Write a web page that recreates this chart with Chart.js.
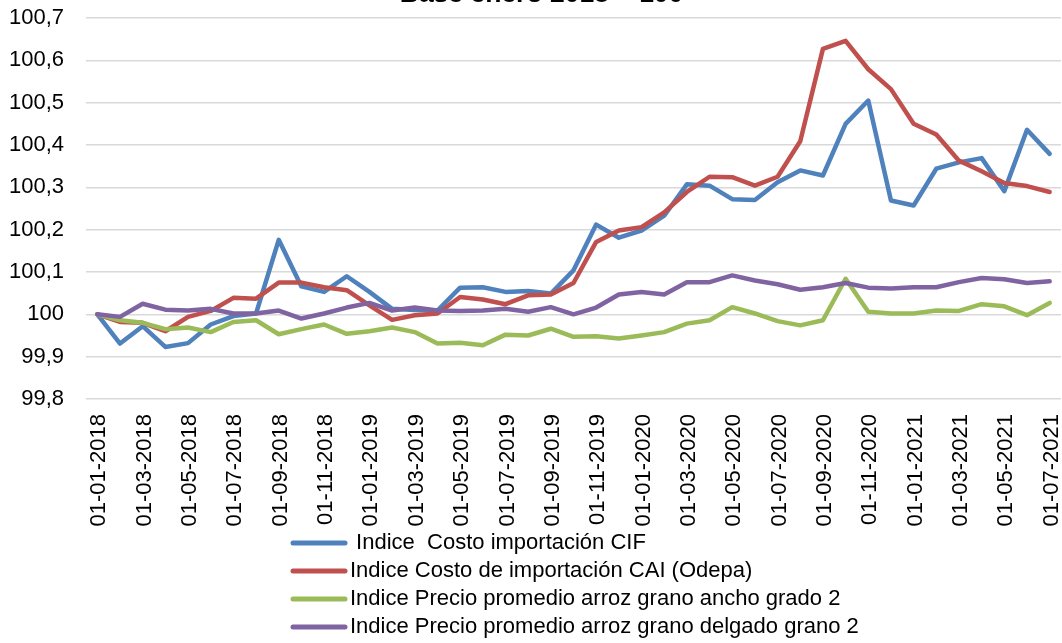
<!DOCTYPE html>
<html>
<head>
<meta charset="utf-8">
<script src="https://cdn.jsdelivr.net/npm/chart.js@4.4.1/dist/chart.umd.min.js"></script>
<style>
  html, body { margin: 0; padding: 0; background: #fff; overflow: hidden; }
  #wrap { width: 1062px; height: 643px; overflow: hidden; }
  /* the title sits mostly above the visible area */
  #myChart { display: block; margin-top: -21px; }
</style>
</head>
<body>
<div id="wrap"><canvas id="myChart" width="1062" height="664"></canvas></div>
<script>
// monthly dates, Jan 2018 .. Jul 2021
const fechas = [
  '01-01-2018','01-02-2018','01-03-2018','01-04-2018','01-05-2018','01-06-2018',
  '01-07-2018','01-08-2018','01-09-2018','01-10-2018','01-11-2018','01-12-2018',
  '01-01-2019','01-02-2019','01-03-2019','01-04-2019','01-05-2019','01-06-2019',
  '01-07-2019','01-08-2019','01-09-2019','01-10-2019','01-11-2019','01-12-2019',
  '01-01-2020','01-02-2020','01-03-2020','01-04-2020','01-05-2020','01-06-2020',
  '01-07-2020','01-08-2020','01-09-2020','01-10-2020','01-11-2020','01-12-2020',
  '01-01-2021','01-02-2021','01-03-2021','01-04-2021','01-05-2021','01-06-2021',
  '01-07-2021'
];

const costoCIF = [
  100.000, 99.931, 99.972, 99.923, 99.932, 99.976, 99.996, 100.002, 100.176, 100.066,
  100.053, 100.090, 100.053, 100.013, 100.010, 100.009, 100.063, 100.064, 100.053, 100.055,
  100.049, 100.104, 100.212, 100.181, 100.198, 100.233, 100.307, 100.304, 100.272, 100.270,
  100.312, 100.340, 100.328, 100.450, 100.505, 100.269, 100.257, 100.344, 100.359, 100.369,
  100.291, 100.436, 100.379
];

const costoCAI = [
  100.000, 99.982, 99.980, 99.960, 99.994, 100.008, 100.039, 100.037, 100.075, 100.075,
  100.064, 100.057, 100.021, 99.987, 99.998, 100.002, 100.041, 100.035, 100.024, 100.045,
  100.047, 100.074, 100.171, 100.198, 100.206, 100.241, 100.289, 100.325, 100.324, 100.304,
  100.325, 100.409, 100.627, 100.646, 100.579, 100.532, 100.450, 100.425, 100.363, 100.338,
  100.310, 100.303, 100.289
];

const granoAncho = [
  100.000, 99.986, 99.980, 99.965, 99.969, 99.958, 99.982, 99.986, 99.953, 99.965,
  99.976, 99.954, 99.960, 99.969, 99.958, 99.931, 99.933, 99.927, 99.952, 99.950,
  99.966, 99.947, 99.948, 99.943, 99.950, 99.958, 99.978, 99.986, 100.017, 100.002,
  99.984, 99.974, 99.986, 100.084, 100.006, 100.002, 100.002, 100.009, 100.008, 100.024,
  100.019, 99.998, 100.027
];

const granoDelgado = [
  100.000, 99.994, 100.025, 100.011, 100.009, 100.013, 100.002, 100.002, 100.009, 99.990,
  100.002, 100.016, 100.027, 100.009, 100.016, 100.009, 100.008, 100.009, 100.013, 100.006,
  100.017, 100.000, 100.016, 100.047, 100.053, 100.047, 100.076, 100.076, 100.092, 100.080,
  100.071, 100.058, 100.064, 100.074, 100.063, 100.061, 100.064, 100.064, 100.076, 100.086,
  100.083, 100.074, 100.078
];

const series = [
  ' Indice  Costo importación CIF',
  'Indice Costo de importación CAI (Odepa)',
  'Indice Precio promedio arroz grano ancho grado 2',
  'Indice Precio promedio arroz grano delgado grano 2'
];

const FONT = '"Liberation Sans", Arial, sans-serif';

// legend drawn as one item per row, overlapping the bottom of the axis labels
const legendRows = {
  id: 'legendRows',
  afterDraw(chart) {
    const ctx = chart.ctx;
    const top = chart.chartArea.bottom + 144;
    ctx.save();
    ctx.font = '22px ' + FONT;
    ctx.textBaseline = 'middle';
    ctx.lineCap = 'round';
    chart.data.datasets.forEach((ds, i) => {
      const y = top + i * 28;
      ctx.strokeStyle = ds.borderColor;
      ctx.lineWidth = 5;
      ctx.beginPath();
      ctx.moveTo(293, y);
      ctx.lineTo(345, y);
      ctx.stroke();
      ctx.fillStyle = '#000';
      ctx.fillText(ds.label, 350, y);
    });
    ctx.restore();
  }
};

function linea(label, data, color, order) {
  return {
    label: label,
    data: data,
    borderColor: color,
    backgroundColor: color,
    borderWidth: 4.5,
    pointRadius: 0,
    tension: 0,
    borderJoinStyle: 'round',
    borderCapStyle: 'round',
    order: order
  };
}

Chart.defaults.font.family = FONT;
Chart.defaults.color = '#000000';

const ctx = document.getElementById('myChart');
const myChart = new Chart(ctx, {
  type: 'line',
  data: {
    labels: fechas,
    datasets: [
      linea(series[0], costoCIF, '#4f81bd', 3),
      linea(series[1], costoCAI, '#c0504d', 2),
      linea(series[2], granoAncho, '#9bbb59', 1),
      linea(series[3], granoDelgado, '#8064a2', 0)
    ]
  },
  options: {
    responsive: false,
    animation: false,
    devicePixelRatio: 1,
    layout: { padding: { left: 0, right: 1, top: 0, bottom: 0 } },
    plugins: {
      legend: { display: false },
      tooltip: { enabled: false },
      title: {
        display: true,
        // leading spaces nudge the centred title to the right
        text: '   Base enero 2018 = 100',
        color: '#000',
        font: { size: 26.5, weight: 'bold', lineHeight: 1.2 },
        padding: { top: 0, bottom: 7.2 }
      }
    },
    scales: {
      x: {
        offset: true,
        grid: { display: false, drawTicks: false },
        border: { display: false },
        ticks: {
          autoSkip: false,
          minRotation: 90,
          maxRotation: 90,
          padding: 15,
          labelOffset: 2,
          font: { size: 22 },
          callback: function(value, index) {
            return index % 2 === 0 ? this.getLabelForValue(value) : '';
          }
        },
        afterFit: function(scale) {
          scale.height = 244;
          scale.paddingLeft = 0;
          scale.paddingRight = 0;
        }
      },
      y: {
        min: 99.8,
        max: 100.7,
        grid: { color: '#d9d9d9', lineWidth: 1.5, drawTicks: false },
        border: { display: false },
        ticks: {
          stepSize: 0.1,
          padding: 22,
          font: { size: 22 },
          callback: function(value) {
            return String(Number(value.toFixed(1))).replace('.', ',');
          }
        },
        afterFit: function(scale) {
          scale.width = 86;
        }
      }
    }
  },
  plugins: [legendRows]
});
</script>
</body>
</html>
